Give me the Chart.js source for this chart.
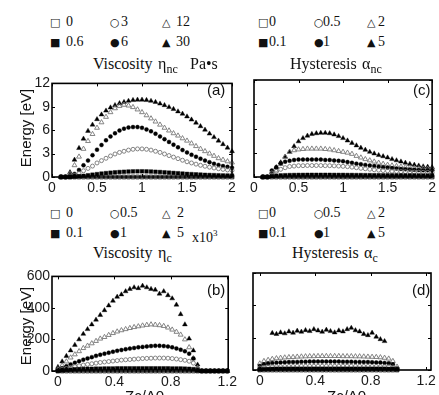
<!DOCTYPE html>
<html>
<head>
<meta charset="utf-8">
<script src="https://cdn.jsdelivr.net/npm/chart.js@4.4.0/dist/chart.umd.min.js"></script>
<style>
  body { margin: 0; background: #fff; width: 439px; height: 395px; overflow: hidden; position: relative; }
  canvas { position: absolute; }
  .t { position: absolute; white-space: nowrap; color: #111; font-family: 'Liberation Serif', serif; }
  .leg { font-size: 14px; line-height: 14px; }
  .sym { position: absolute; font-family: 'DejaVu Sans', sans-serif; font-size: 11px; line-height: 11px; color: #111; }
  .ttl { font-size: 16px; line-height: 16px; }
  .sub { font-size: 12px; position: relative; top: 4px; }
  .sans { position: absolute; white-space: nowrap; font-family: 'Liberation Sans', Arial, sans-serif; font-size: 15px; line-height: 15px; color: #111; }
  .rot { transform: translate(-50%, -50%) rotate(-90deg); }
</style>
</head>
<body>
<canvas id="chartA" width="220" height="126" style="left:20px;top:73px"></canvas>
<canvas id="chartC" width="199" height="126" style="left:240px;top:73px"></canvas>
<canvas id="chartB" width="220" height="129" style="left:20px;top:266px"></canvas>
<canvas id="chartD" width="199" height="129" style="left:240px;top:266px"></canvas>
<div id="texts"></div>
<script>
// x positions (Zt/A0) for the top panels and the bottom panels
const xTop = [0.1, 0.15, 0.2, 0.25, 0.3, 0.35, 0.4, 0.45, 0.5, 0.55, 0.6, 0.65, 0.7, 0.75, 0.8, 0.85, 0.9, 0.95, 1,
  1.05, 1.1, 1.15, 1.2, 1.25, 1.3, 1.35, 1.4, 1.45, 1.5, 1.55, 1.6, 1.65, 1.7, 1.75, 1.8, 1.85, 1.9, 1.95, 2];
const xBottom = [0, 0.03, 0.06, 0.09, 0.12, 0.15, 0.18, 0.21, 0.24, 0.27, 0.3, 0.33, 0.36, 0.39, 0.42, 0.45, 0.48,
  0.51, 0.54, 0.57, 0.6, 0.63, 0.66, 0.69, 0.72, 0.75, 0.78, 0.81, 0.84, 0.87, 0.9, 0.93, 0.96, 0.99, 1.02, 1.05,
  1.08, 1.11, 1.14, 1.17, 1.2];

// tick labels
const xTicksTop = [0, 0.5, 1, 1.5, 2];
const yTicksTop = [0, 3, 6, 9, 12];
const xTicksBottom = [0, 0.4, 0.8, 1.2];
const yTicksBottom = [0, 200, 400, 600];

// (a) viscosity eta_nc [Pa s]
const a_0   = [0,0,0,0,0,0,0,0,0,0,0,0,0,0,0,0,0,0,0,0,0,0,0,0,0,0,0,0,0,0,0,0,0,0,0,0,0,0,0];
const a_0_6 = [0,0,0,0.05,0.1,0.15,0.22,0.3,0.37,0.44,0.5,0.55,0.6,0.64,0.67,0.7,0.72,0.73,0.73,0.72,0.7,0.67,0.64,0.6,0.56,0.52,0.48,0.44,0.4,0.37,0.34,0.31,0.28,0.26,0.24,0.22,0.2,0.19,0.18];
const a_3   = [0,0,0.05,0.2,0.5,0.8,1.1,1.4,1.8,2.1,2.4,2.7,2.95,3.15,3.3,3.45,3.55,3.6,3.6,3.55,3.45,3.3,3.15,2.95,2.75,2.55,2.35,2.15,1.95,1.8,1.65,1.5,1.38,1.26,1.15,1.06,0.98,0.9,0.84];
const a_6   = [0,0,0.1,0.4,0.9,1.5,2.1,2.8,3.5,4.1,4.7,5.2,5.6,5.95,6.2,6.35,6.4,6.4,6.3,6.1,5.85,5.55,5.2,4.85,4.5,4.15,3.8,3.45,3.15,2.85,2.6,2.35,2.1,1.9,1.7,1.55,1.4,1.3,1.2];
const a_12  = [0,0,0.4,1.5,2.6,3.6,4.6,5.5,6.3,7.0,7.7,8.3,8.8,9.1,9.25,9.15,8.95,8.65,8.3,7.9,7.5,7.1,6.7,6.3,5.95,5.6,5.3,4.95,4.65,4.3,3.95,3.6,3.3,3.0,2.7,2.4,2.2,2.0,1.85];
const a_30  = [0,0,0.6,2.2,3.7,4.9,5.9,6.7,7.4,8.0,8.5,8.9,9.2,9.45,9.6,9.75,9.85,9.9,9.9,9.85,9.75,9.6,9.4,9.2,8.95,8.7,8.4,8.1,7.75,7.35,6.95,6.5,6.05,5.55,5.1,4.65,4.2,3.75,3.3];

// (c) hysteresis alpha_nc
const c_0   = [0,0,0,0,0,0,0,0,0,0,0,0,0,0,0,0,0,0,0,0,0,0,0,0,0,0,0,0,0,0,0,0,0,0,0,0,0,0,0];
const c_0_1 = [0,0,0.1,0.15,0.2,0.22,0.24,0.25,0.26,0.26,0.27,0.27,0.27,0.27,0.27,0.27,0.26,0.26,0.26,0.25,0.25,0.24,0.24,0.23,0.23,0.22,0.22,0.21,0.21,0.2,0.2,0.2,0.19,0.19,0.19,0.18,0.18,0.18,0.18];
const c_0_5 = [0,0,0.5,0.7,0.95,1.15,1.3,1.35,1.4,1.4,1.42,1.42,1.42,1.42,1.4,1.4,1.38,1.35,1.32,1.28,1.22,1.15,1.08,1.02,0.96,0.9,0.85,0.8,0.76,0.72,0.7,0.67,0.65,0.63,0.61,0.6,0.58,0.57,0.56];
const c_1   = [0,0,0.8,1.2,1.7,1.9,2.0,2.1,2.15,2.15,2.15,2.15,2.15,2.15,2.1,2.1,2.05,2.0,1.95,1.85,1.75,1.65,1.58,1.5,1.42,1.35,1.28,1.22,1.16,1.1,1.05,1.0,0.96,0.92,0.89,0.86,0.84,0.82,0.8];
const c_2   = [0,0,0.3,0.8,1.6,2.5,3.1,3.3,3.4,3.45,3.5,3.5,3.5,3.5,3.45,3.4,3.3,3.2,3.1,3.0,2.85,2.6,2.4,2.2,2.05,1.9,1.75,1.62,1.5,1.42,1.35,1.28,1.22,1.16,1.1,1.06,1.03,1.0,0.98];
const c_5   = [0,0,0.6,1.2,1.8,2.5,3.1,3.8,4.4,4.8,5.1,5.3,5.4,5.45,5.45,5.4,5.25,5.05,4.8,4.5,4.2,3.9,3.6,3.35,3.1,2.9,2.7,2.55,2.4,2.2,2.05,1.9,1.75,1.6,1.5,1.4,1.3,1.25,1.2];

// (b) viscosity eta_c (x10^3)
const b_0   = [0,0,0,0,0,0,0,0,0,0,0,0,0,0,0,0,0,0,0,0,0,0,0,0,0,0,0,0,0,0,0,0,0,0,0,0,0,0,0,0,0];
const b_0_1 = [1,4,7,9,11,12,13,14,14,15,15,16,16,16,17,17,17,17,17,17,17,17,17,17,17,17,17,16,16,16,15,14,12,3,0,0,0,0,0,0,0];
const b_0_5 = [3,10,16,22,28,33,38,42,46,50,54,57,60,63,66,69,71,73,75,77,79,80,81,82,82,82,81,79,76,72,68,62,50,10,0,0,0,0,0,0,0];
const b_1   = [5,18,30,42,52,62,72,80,88,96,103,110,116,122,128,133,138,142,146,150,153,156,158,160,160,158,155,150,143,135,125,110,80,15,0,0,0,0,0,0,0];
const b_2   = [10,35,60,85,105,125,145,160,175,190,205,215,228,240,250,258,265,272,278,283,288,292,295,293,290,285,275,262,248,230,200,150,80,20,0,0,0,0,0,0,0];
const b_5   = [25,60,95,130,165,200,235,265,295,325,355,385,415,445,470,485,505,520,530,525,540,530,520,515,490,505,480,460,420,360,295,205,130,40,0,0,0,0,0,0,0];

// (d) hysteresis alpha_c
const d_0   = [0,0,0,0,0,0,0,0,0,0,0,0,0,0,0,0,0,0,0,0,0,0,0,0,0,0,0,0,0,0,0,0,0,0,null,null,null,null,null,null,null];
const d_0_1 = [3,5,6,7,8,8,8,8,8,8,8,8,8,8,8,8,8,8,8,8,8,8,8,8,8,8,8,8,8,8,8,7,7,4,null,null,null,null,null,null,null];
const d_0_5 = [12,17,19,20,21,21,22,22,22,23,23,23,23,23,23,23,23,23,23,23,23,23,23,23,23,22,22,22,22,21,21,20,18,8,null,null,null,null,null,null,null];
const d_1   = [25,35,40,43,45,47,48,49,50,50,51,51,52,52,52,52,52,52,52,52,51,51,51,50,50,49,49,48,47,46,44,42,35,10,null,null,null,null,null,null,null];
const d_2   = [40,55,62,68,72,75,77,79,80,82,83,84,85,85,86,86,86,86,86,86,85,85,85,84,84,83,82,81,80,78,75,70,55,20,null,null,null,null,null,null,null];
const d_5   = [null,null,null,228,222,232,226,238,230,242,236,246,240,252,244,236,248,240,232,244,238,252,260,245,238,222,215,230,205,190,178,null,null,null,null,null,null,null,null,null,null];

// legend labels, order: open square, open circle, open triangle, filled square, filled circle, filled triangle
const legendA = ['0', '3', '12', '0.6', '6', '30'];
const legendC = ['0', '0.5', '2', '0.1', '1', '5'];
const legendB = ['0', '0.5', '2', '0.1', '1', '5'];
const legendD = ['0', '0.5', '2', '0.1', '1', '5'];

const markers = {
  sqOpen:  { style: 'rect', fill: false, color: '#000', r: 2.6 },
  sqFill:  { style: 'rect', fill: true,  color: '#000', r: 2.6 },
  ciOpen:  { style: 'circle', fill: false, color: '#777', r: 2 },
  ciFill:  { style: 'circle', fill: true,  color: '#000', r: 2 },
  trOpen:  { style: 'triangle', fill: false, color: '#777', r: 2.8 },
  trFill:  { style: 'triangle', fill: true,  color: '#000', r: 2.8 }
};

function ds(xs, ys, m) {
  return {
    data: xs.map((x, i) => ({ x: x, y: ys[i] })).filter(p => p.y !== null),
    showLine: false,
    pointStyle: m.style,
    pointRadius: m.r,
    pointHoverRadius: m.r,
    pointBackgroundColor: m.fill ? m.color : 'rgba(0,0,0,0)',
    pointBorderColor: m.color,
    pointBorderWidth: m.fill ? 0.4 : 0.9,
    clip: false
  };
}

const framePlugin = {
  id: 'frame',
  afterDatasetsDraw(chart) {
    const { ctx, chartArea: { left, right, top, bottom }, scales: { x, y } } = chart;
    ctx.save();
    ctx.strokeStyle = '#000';
    ctx.lineWidth = 1;
    x.ticks.forEach(t => {
      const px = Math.round(x.getPixelForValue(t.value)) + 0.5;
      ctx.beginPath();
      ctx.moveTo(px, bottom); ctx.lineTo(px, bottom - 3);
      ctx.moveTo(px, top); ctx.lineTo(px, top + 3);
      ctx.stroke();
    });
    y.ticks.forEach(t => {
      const py = Math.round(y.getPixelForValue(t.value)) + 0.5;
      ctx.beginPath();
      ctx.moveTo(left, py); ctx.lineTo(left + 3, py);
      ctx.moveTo(right, py); ctx.lineTo(right - 3, py);
      ctx.stroke();
    });
    ctx.lineWidth = 1.6;
    ctx.strokeRect(left, top, right - left, bottom - top);
    ctx.restore();
  }
};

const tickFont = { family: "'Liberation Sans', Arial, sans-serif", size: 14 };

function makePanel(id, sets, xs, xr, xt, yr, yt, showY, yWidth, xHeight, pad) {
  const order = ['sqOpen', 'sqFill', 'ciOpen', 'ciFill', 'trOpen', 'trFill'];
  new Chart(document.getElementById(id), {
    type: 'scatter',
    data: { datasets: sets.map((s, i) => ds(xs, s, markers[order[i]])) },
    options: {
      responsive: false,
      animation: false,
      events: [],
      layout: { padding: pad },
      plugins: { legend: { display: false }, tooltip: { enabled: false } },
      scales: {
        x: {
          type: 'linear', min: xr[0], max: xr[1],
          grid: { display: false, drawTicks: false },
          border: { display: false },
          afterBuildTicks: s => { s.ticks = xt.map(v => ({ value: v })); },
          afterFit: s => { s.height = xHeight; },
          ticks: { font: tickFont, color: '#1a1a1a', padding: 3, maxRotation: 0, callback: v => String(v) }
        },
        y: {
          type: 'linear', min: yr[0], max: yr[1],
          grid: { display: false, drawTicks: false },
          border: { display: false },
          afterBuildTicks: s => { s.ticks = yt.map(v => ({ value: v })); },
          afterFit: s => { s.width = yWidth; },
          ticks: { display: showY, font: tickFont, color: '#1a1a1a', padding: 2, callback: v => String(v) }
        }
      }
    },
    plugins: [framePlugin]
  });
}

makePanel('chartA', [a_0, a_0_6, a_3, a_6, a_12, a_30], xTop, [0, 2], xTicksTop, [0, 12], yTicksTop, true, 32, 22,
  { left: 0, top: 7, right: 8, bottom: 0 });
makePanel('chartC', [c_0, c_0_1, c_0_5, c_1, c_2, c_5], xTop, [0, 2], xTicksTop, [0, 12], yTicksTop, false, 14, 22,
  { left: 0, top: 7, right: 3, bottom: 0 });
makePanel('chartB', [b_0, b_0_1, b_0_5, b_1, b_2, b_5], xBottom, [-0.042, 1.207], xTicksBottom, [0, 600], yTicksBottom, true, 32, 24,
  { left: 0, top: 7, right: 9, bottom: 0 });
makePanel('chartD', [d_0, d_0_1, d_0_5, d_1, d_2, d_5], xBottom, [-0.049, 1.235], xTicksBottom, [0, 600], yTicksBottom, false, 13, 25,
  { left: 0, top: 7, right: 4, bottom: 0 });

// text around the panels
const holder = document.getElementById('texts');
function addText(cls, left, top, html, style) {
  const el = document.createElement('div');
  el.className = cls;
  el.style.left = left + 'px';
  el.style.top = top + 'px';
  if (style) el.style.cssText += style;
  el.innerHTML = html;
  holder.appendChild(el);
}

const symbols = ['\u25A1', '\u25CB', '\u25B3', '\u25A0', '\u25CF', '\u25B2'];
function addLegend(labels, symX, txtX, rowTop) {
  labels.forEach((lab, i) => {
    const col = i % 3, row = Math.floor(i / 3);
    addText('sym', symX[col], rowTop[row] + 2, symbols[i]);
    addText('t leg', txtX[col], rowTop[row], lab);
  });
}
addLegend(legendA, [50, 110, 162], [66, 121, 176], [15, 35]);
addLegend(legendC, [258, 314, 367], [269, 323, 378], [15, 35]);
addLegend(legendB, [50, 110, 162], [66, 120, 177], [206, 226]);
addLegend(legendD, [258, 314, 367], [269, 323, 378], [206, 226]);
addText('t leg', 192, 226, 'x10<sup style="font-size:9px">3</sup>');

addText('t ttl', 93, 56, 'Viscosity');
addText('t ttl', 158, 56, '\u03B7<span class="sub">nc</span>');
addText('t ttl', 190, 56, 'Pa\u2022s');
addText('t ttl', 290, 56, 'Hysteresis');
addText('t ttl', 362, 56, '\u03B1<span class="sub">nc</span>');
addText('t ttl', 93, 245, 'Viscosity');
addText('t ttl', 158, 245, '\u03B7<span class="sub">c</span>');
addText('t ttl', 292, 245, 'Hysteresis');
addText('t ttl', 364, 245, '\u03B1<span class="sub">c</span>');

addText('sans', 207, 82, '(a)');
addText('sans', 413, 82, '(c)');
addText('sans', 207, 282, '(b)');
addText('sans', 412, 282, '(d)');
addText('sans rot', 25, 128, 'Energy [eV]');
addText('sans rot', 25, 326, 'Energy [eV]');
addText('sans', 125, 388, 'Zc/A0');
addText('sans', 327, 388, 'Zc/A0');
</script>
</body>
</html>
